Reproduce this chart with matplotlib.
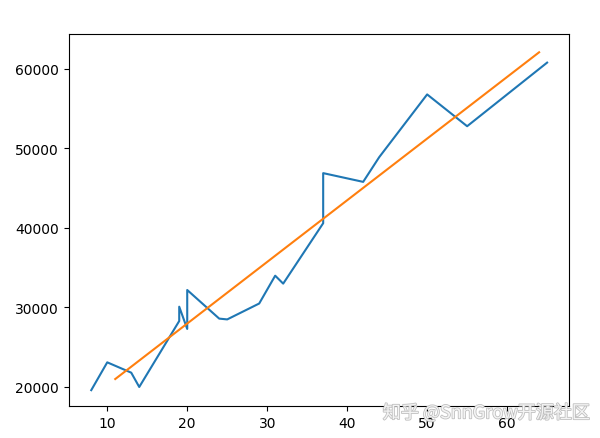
import matplotlib
matplotlib.use('Agg')
import matplotlib.pyplot as plt
import matplotlib.patheffects as pe

# blue: raw data (sorted by x), orange: fitted line
x_data = [8, 10, 13, 14, 19, 19, 20, 20, 24, 25, 29, 31, 32, 37, 37, 42, 44, 50, 55, 65]
y_data = [19600, 23100, 21800, 20000, 28300, 30100, 27300, 32200, 28600, 28500,
          30500, 34000, 33000, 40600, 46900, 45800, 48900, 56800, 52800, 60800]

x_fit = [11, 64]
y_fit = [21000, 62100]

watermark = "知乎 @SnnGrow开源社区"


def main():
    fig = plt.figure(figsize=(6, 4.39), dpi=100)
    ax = fig.add_axes([0.1145, 0.0722, 0.834, 0.8488])
    ax.plot(x_data, y_data, color='#1f77b4', linewidth=1.5)
    ax.plot(x_fit, y_fit, color='#ff7f0e', linewidth=1.5)
    ax.set_xlim(5.18, 67.75)
    ax.set_ylim(17570, 64440)
    ax.set_xticks([10, 20, 30, 40, 50, 60])
    ax.set_yticks([20000, 30000, 40000, 50000, 60000])
    ax.tick_params(labelsize=10)

    fig.text(0.638, 0.057, watermark, fontsize=13,
             family=['Noto Sans CJK SC', 'DejaVu Sans'],
             color='#f4f4f4', va='center', ha='left',
             path_effects=[pe.withStroke(linewidth=1.2, foreground='#c0c0c0')])

    fig.savefig('out.png', dpi=100)


if __name__ == '__main__':
    main()
